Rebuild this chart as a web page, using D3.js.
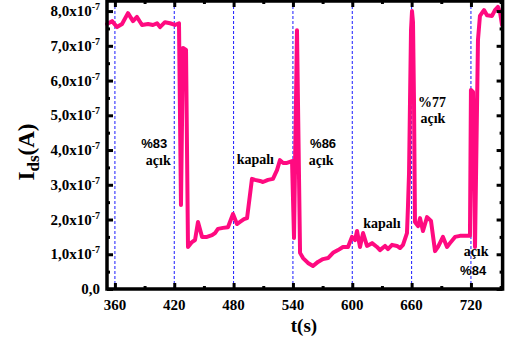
<!DOCTYPE html>
<html>
<head>
<meta charset="utf-8">
<script src="https://cdn.jsdelivr.net/npm/d3@7"></script>
<style>
  body { margin: 0; background: #fff; }
  svg text { fill: #000; }
</style>
</head>
<body>
<svg id="chart" width="507" height="354"></svg>
<script>
// Drain-source current versus time (current in units of 1e-7 A)
const timeS = [
  352.0, 357.1, 362.1, 367.2, 373.2, 378.3, 382.3, 387.4, 393.5, 398.5,
  402.6, 405.6, 410.6, 415.7, 420.8, 424.8, 426.8, 428.8, 431.9, 433.9,
  437.9, 441.0, 444.0, 448.1, 453.1, 458.2, 461.2, 464.2, 469.3, 474.3,
  479.4, 483.4, 486.5, 490.5, 493.6, 498.6, 501.6, 506.7, 509.7, 514.8,
  519.8, 523.9, 526.9, 530.0, 534.0, 539.1, 541.1, 544.1, 547.2, 550.2,
  555.2, 560.3, 565.3, 570.4, 575.5, 580.5, 585.6, 590.6, 595.7, 599.7,
  602.8, 604.8, 607.8, 610.9, 614.9, 620.0, 625.0, 628.0, 633.1, 636.1,
  640.2, 645.2, 648.3, 651.3, 655.3, 656.3, 657.4, 658.4, 659.4, 660.4,
  661.4, 662.4, 663.4, 666.5, 668.5, 671.5, 675.6, 679.6, 683.7, 686.7,
  691.7, 695.8, 698.8, 703.9, 708.9, 714.0, 719.0, 720.0, 722.1, 724.1,
  727.1, 729.1, 733.2, 736.2, 741.3, 744.3, 747.3, 749.4, 751.4
];
const currentE7 = [
  7.63, 7.71, 7.54, 7.63, 7.94, 7.71, 7.83, 7.60, 7.63, 7.60,
  7.65, 7.54, 7.68, 7.65, 7.60, 7.65, 2.42, 6.94, 6.88, 1.21,
  1.35, 1.41, 1.93, 1.50, 1.50, 1.55, 1.61, 1.73, 1.76, 1.78,
  2.16, 1.87, 1.93, 2.01, 2.04, 3.17, 3.14, 3.11, 3.08, 3.14,
  3.17, 3.42, 3.71, 3.63, 3.63, 3.68, 1.47, 7.45, 1.04, 0.89,
  0.75, 0.66, 0.78, 0.86, 0.89, 1.04, 1.12, 1.21, 1.21, 1.50,
  1.41, 1.67, 1.21, 1.61, 1.24, 1.32, 1.21, 1.12, 1.24, 1.15,
  1.27, 1.24, 1.18, 1.27, 1.61, 2.36, 3.34, 5.44, 7.45, 8.00,
  7.68, 5.44, 1.93, 1.81, 2.04, 1.67, 2.07, 1.96, 1.09, 1.21,
  1.50, 1.21, 1.32, 1.50, 1.53, 1.53, 1.53, 5.73, 5.67, 1.21,
  7.17, 7.86, 8.03, 7.88, 7.86, 8.03, 8.12, 7.97, 7.60
];

const xTicks = [360, 420, 480, 540, 600, 660, 720];
const xMinorTicks = [390, 450, 510, 570, 630, 690, 750];
const xTickLabels = ["360", "420", "480", "540", "600", "660", "720"];
const yTicks = [0, 1, 2, 3, 4, 5, 6, 7, 8];
const yMinorTicks = [0.5, 1.5, 2.5, 3.5, 4.5, 5.5, 6.5, 7.5];
const yTickLabels = ["0,0", "1,0", "2,0", "3,0", "4,0", "5,0", "6,0", "7,0", "8,0"];

// State notes written inside the plot, anchored in data coordinates
const noteTexts = ["%83", "açık", "kapalı", "%86", "açık", "%77", "açık", "kapalı", "açık", "%84"];
const noteTimes = [399.8, 403.8, 502.0, 570.5, 568.5, 680.5, 681.5, 630.0, 725.2, 722.2];
const noteValues = [4.06, 3.57, 3.60, 4.06, 3.57, 5.24, 4.78, 1.75, 0.95, 0.40];
const noteSerif = [false, true, true, false, true, true, true, true, true, false];

const svg = d3.select("#chart");
const plotLeft = 107, plotRight = 502.6, plotTop = 1, plotBottom = 289;

const x = d3.scaleLinear().domain([352, 752]).range([plotLeft, plotRight]);
const y = d3.scaleLinear().domain([0, 8.29]).range([plotBottom, plotTop]);

const serif = "'Liberation Serif', 'Times New Roman', serif";
const sans = "'Liberation Sans', Arial, sans-serif";

// Blue dashed guides at each major time tick
svg.append("g")
  .selectAll("line")
  .data(xTicks)
  .join("line")
  .attr("x1", d => x(d)).attr("x2", d => x(d))
  .attr("y1", plotTop).attr("y2", plotBottom)
  .attr("stroke", "#1a1aff")
  .attr("stroke-width", 1)
  .attr("stroke-dasharray", "3,2");

// Current trace
const line = d3.line()
  .x((d, i) => x(timeS[i]))
  .y(d => y(d));

svg.append("path")
  .datum(currentE7)
  .attr("d", line)
  .attr("fill", "none")
  .attr("stroke", "#ff0a80")
  .attr("stroke-width", 4)
  .attr("stroke-linejoin", "round")
  .attr("stroke-linecap", "round");

// Inward ticks on all four sides
function styleTicks(g, width) {
  g.select(".domain").remove();
  g.selectAll(".tick line").attr("stroke", "#000").attr("stroke-width", width);
  g.selectAll(".tick text").remove();
}
function addTicks(axisFn, pos, vals, size) {
  const horizontal = (axisFn === d3.axisBottom || axisFn === d3.axisTop);
  const tr = horizontal ? `translate(0,${pos})` : `translate(${pos},0)`;
  const scale = horizontal ? x : y;
  svg.append("g").attr("transform", tr)
    .call(axisFn(scale).tickValues(vals).tickSize(-size).tickFormat(""))
    .call(g => styleTicks(g, 3));
}
addTicks(d3.axisBottom, plotBottom, xTicks, 6);
addTicks(d3.axisBottom, plotBottom, xMinorTicks, 3);
addTicks(d3.axisTop, plotTop, xTicks, 6);
addTicks(d3.axisTop, plotTop, xMinorTicks, 3);
addTicks(d3.axisLeft, plotLeft, yTicks, 6);
addTicks(d3.axisLeft, plotLeft, yMinorTicks, 3);
addTicks(d3.axisRight, plotRight, yTicks, 6);
addTicks(d3.axisRight, plotRight, yMinorTicks, 3);

// Plot frame
svg.append("rect")
  .attr("x", plotLeft).attr("y", plotTop)
  .attr("width", plotRight - plotLeft).attr("height", plotBottom - plotTop)
  .attr("fill", "none")
  .attr("stroke", "#000")
  .attr("stroke-width", 3.5);

// Time tick labels
svg.append("g")
  .selectAll("text")
  .data(xTicks)
  .join("text")
  .attr("x", d => x(d))
  .attr("y", 310)
  .attr("text-anchor", "middle")
  .attr("font-family", serif)
  .attr("font-weight", "bold")
  .attr("font-size", 15)
  .text((d, i) => xTickLabels[i]);

// Current tick labels with power-of-ten exponent
const yLab = svg.append("g")
  .selectAll("text")
  .data(yTicks)
  .join("text")
  .attr("x", 100)
  .attr("y", d => y(d) + 5)
  .attr("text-anchor", "end")
  .attr("font-family", serif)
  .attr("font-weight", "bold")
  .attr("font-size", 15);
yLab.each(function(d, i) {
  const t = d3.select(this);
  if (d === 0) {
    t.text(yTickLabels[i]);
  } else {
    t.append("tspan").text(yTickLabels[i] + "x10");
    t.append("tspan").attr("font-size", 10).attr("dy", -6).text("-7");
  }
});

// Axis titles
svg.append("text")
  .attr("x", 304).attr("y", 332)
  .attr("text-anchor", "middle")
  .attr("font-family", serif)
  .attr("font-weight", "bold")
  .attr("font-size", 19)
  .text("t(s)");

const yTitle = svg.append("text")
  .attr("transform", "translate(34,152) rotate(-90)")
  .attr("text-anchor", "middle")
  .attr("font-family", serif)
  .attr("font-weight", "bold")
  .attr("font-size", 23);
yTitle.append("tspan").text("I");
yTitle.append("tspan").attr("font-size", 17).attr("dy", 5).text("ds");
yTitle.append("tspan").attr("dy", -5).text("(A)");

// State notes
svg.append("g")
  .selectAll("text")
  .data(noteTexts)
  .join("text")
  .attr("x", (d, i) => x(noteTimes[i]))
  .attr("y", (d, i) => y(noteValues[i]))
  .attr("text-anchor", "middle")
  .attr("font-family", (d, i) => noteSerif[i] ? serif : sans)
  .attr("font-weight", "bold")
  .attr("font-size", (d, i) => noteSerif[i] ? 14 : 13)
  .text(d => d);
</script>
</body>
</html>
